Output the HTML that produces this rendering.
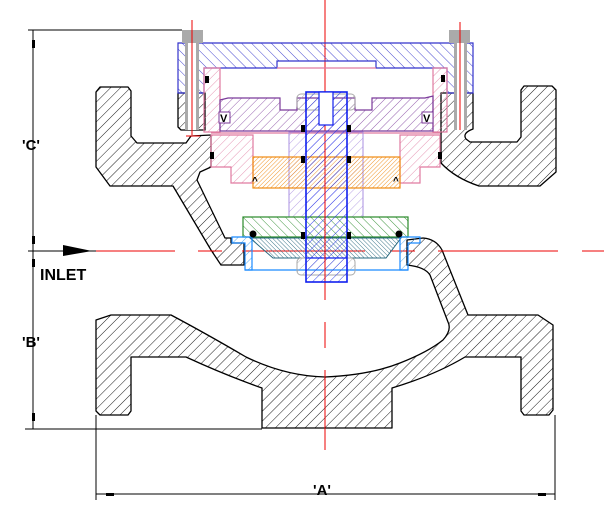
<!DOCTYPE html>
<html><head><meta charset="utf-8"><style>
html,body{margin:0;padding:0;background:#fff}
svg{display:block}
text{font-family:"Liberation Sans",sans-serif;font-weight:bold}
</style></head><body>
<svg width="604" height="517" viewBox="0 0 604 517" xmlns="http://www.w3.org/2000/svg">
<defs>
<pattern id="hk" width="7" height="7" patternUnits="userSpaceOnUse" patternTransform="rotate(45)"><line x1="0" y1="0" x2="0" y2="7" stroke="#000" stroke-width="0.9"/></pattern>
<pattern id="hb" width="7" height="7" patternUnits="userSpaceOnUse" patternTransform="rotate(-45)"><line x1="0" y1="0" x2="0" y2="7" stroke="#3333cc" stroke-width="0.9"/></pattern>
<pattern id="hp" width="6" height="6" patternUnits="userSpaceOnUse" patternTransform="rotate(45)"><line x1="0" y1="0" x2="0" y2="6" stroke="#e07aa0" stroke-width="0.8"/></pattern>
<pattern id="hv" width="6" height="6" patternUnits="userSpaceOnUse" patternTransform="rotate(45)"><line x1="0" y1="0" x2="0" y2="6" stroke="#7b3a9a" stroke-width="0.8"/></pattern>
<pattern id="hl" width="6" height="6" patternUnits="userSpaceOnUse" patternTransform="rotate(45)"><line x1="0" y1="0" x2="0" y2="6" stroke="#a98fe0" stroke-width="0.8"/></pattern>
<pattern id="ho" width="3" height="3" patternUnits="userSpaceOnUse" patternTransform="rotate(45)"><line x1="0" y1="0" x2="0" y2="3" stroke="#f08a10" stroke-width="0.9"/></pattern>
<pattern id="hs" width="6" height="6" patternUnits="userSpaceOnUse" patternTransform="rotate(45)"><line x1="0" y1="0" x2="0" y2="6" stroke="#2030ee" stroke-width="0.9"/></pattern>
<pattern id="hg" width="6" height="6" patternUnits="userSpaceOnUse" patternTransform="rotate(-45)"><line x1="0" y1="0" x2="0" y2="6" stroke="#2a8a2a" stroke-width="0.9"/></pattern>
<pattern id="ht" width="3" height="3" patternUnits="userSpaceOnUse" patternTransform="rotate(-45)"><line x1="0" y1="0" x2="0" y2="3" stroke="#2a6a80" stroke-width="0.9"/></pattern>
<pattern id="hc" width="6" height="6" patternUnits="userSpaceOnUse" patternTransform="rotate(45)"><line x1="0" y1="0" x2="0" y2="6" stroke="#3399ee" stroke-width="0.8"/></pattern>
<pattern id="hy" width="6" height="6" patternUnits="userSpaceOnUse" patternTransform="rotate(45)"><line x1="0" y1="0" x2="0" y2="6" stroke="#aaa" stroke-width="0.9"/></pattern>
</defs>

<g stroke="#000" stroke-width="1" fill="none">
<line x1="28" y1="30" x2="182" y2="30"/>
<line x1="25" y1="429" x2="262" y2="429"/>
<line x1="33" y1="30" x2="33" y2="429"/>
<line x1="96" y1="415" x2="96" y2="500"/>
<line x1="555" y1="415" x2="555" y2="500"/>
<line x1="96" y1="494" x2="555" y2="494"/>
<line x1="28" y1="251" x2="96" y2="251"/>
</g>
<g fill="#000">
<rect x="32" y="40" width="3" height="8"/><rect x="32" y="236" width="3" height="8"/>
<rect x="32" y="259" width="3" height="8"/><rect x="32" y="413" width="3" height="8"/>
<rect x="106" y="493" width="8" height="3"/><rect x="538" y="493" width="8" height="3"/>
<polygon points="63,245 92,251 63,256"/>
</g>
<text x="22" y="150" font-size="15">'C'</text>
<text x="22" y="347" font-size="15">'B'</text>
<text x="313" y="495" font-size="15">'A'</text>
<text x="40" y="280" font-size="16">INLET</text>

<g stroke="#000" stroke-width="1.3" fill="url(#hk)" stroke-linejoin="round">
<path d="M178,93 L205,93 L205,130 L181,130 L178,127 Z"/>
<path d="M96,92 L100,87 L128,87 L131,91 L131,136 L137,143 L186,143 L191,136 L211,135 L211,167 L200,172 L197,180 L225,238 L231,238 L231,243 L244,243 L244,265 L221,265 L211,250 L173,186 L110,186 L96,167 Z"/>
<path d="M441,93 L473,93 L473,129 Q462,133 466,139 L470,142 L517,142 L521,137 L521,90 L524,86 L552,86 L556,90 L556,172 L540,186 L479,186 Q455,178 441,163 Z"/>
<path d="M111,315 L171,315 Q205,333 246,357 Q285,376 325,377 Q370,375 400,363 Q428,352 443,340 Q452,330 448,322 L430,275 Q425,267 407,265 L407,240 L423,238 Q436,239 442,250 L468,315 L538,315 L553,325 L553,410 L549,415 L524,415 L521,411 L521,357 L465,357 Q435,375 392,388 L392,428 L262,428 L262,388 Q225,375 186,357 L131,357 L131,411 L128,415 L100,415 L96,411 L96,320 Z"/>
</g>

<g stroke="#e00" stroke-width="1">
<line x1="325" y1="0" x2="325" y2="300"/><line x1="325" y1="322" x2="325" y2="348"/><line x1="325" y1="370" x2="325" y2="450"/>
<line x1="96" y1="251" x2="175" y2="251"/><line x1="198" y1="251" x2="222" y2="251"/><line x1="242" y1="251" x2="365" y2="251"/><line x1="390" y1="251" x2="415" y2="251"/><line x1="438" y1="251" x2="558" y2="251"/><line x1="582" y1="251" x2="604" y2="251"/>
</g>

<path d="M178,43 L473,43 L473,93 L447,93 L447,68 L376,68 L376,61 L277,61 L277,68 L204,68 L204,93 L178,93 Z" fill="url(#hb)" stroke="#3333cc" stroke-width="1.2"/>
<g fill="url(#hp)" stroke="#e07aa0" stroke-width="1.2">
<rect x="204" y="68" width="16" height="64"/>
<rect x="433" y="68" width="14" height="64"/>
<path d="M211,135 L253,135 L253,183 L231,183 L231,167 L211,167 Z"/>
<path d="M440,135 L400,135 L400,183 L420,183 L420,167 L440,167 Z"/>
<line x1="211" y1="133" x2="440" y2="133"/>
</g>
<line x1="277" y1="68" x2="376" y2="68" stroke="#e07aa0" stroke-width="1.2"/>
<path d="M220,100 L228,98 L280,98 L280,110 L297,110 L297,98 L355,98 L355,110 L372,110 L372,98 L425,98 L433,96 L433,131 L220,131 Z" fill="url(#hv)" stroke="#7b3a9a" stroke-width="1.2"/>
<rect x="289" y="132" width="74" height="85" fill="url(#hl)" stroke="#a98fe0" stroke-width="1"/>
<rect x="253" y="157" width="147" height="31" fill="url(#ho)" stroke="#f08a10" stroke-width="1.2"/>
<rect x="243" y="217" width="165" height="20" fill="url(#hg)" stroke="#2a8a2a" stroke-width="1.2"/>
<polygon points="250,238 401,238 386,258 273,258" fill="url(#ht)" stroke="#2a6a80" stroke-width="1"/>
<g fill="url(#hc)" stroke="#1a8aff" stroke-width="1.2">
<path d="M232,237 L252,237 L252,270 L245,270 L245,243 L232,243 Z"/>
<path d="M420,237 L400,237 L400,270 L408,270 L408,243 L420,243 Z"/>
<line x1="245" y1="270" x2="408" y2="270" fill="none"/>
</g>
<rect x="297" y="94" width="58" height="16" rx="4" fill="url(#hy)" stroke="#aaa"/>
<rect x="297" y="258" width="58" height="17" rx="4" fill="url(#hy)" stroke="#aaa"/>
<rect x="306" y="92" width="41" height="190" fill="url(#hs)" stroke="#1020ee" stroke-width="1.6"/>
<rect x="319" y="92" width="14" height="33" fill="#fff" stroke="#1020ee" stroke-width="1.2"/>
<line x1="306" y1="258" x2="347" y2="258" stroke="#1020ee" stroke-width="1.2"/>
<line x1="325" y1="150" x2="325" y2="165" stroke="#e00"/><line x1="325" y1="180" x2="325" y2="280" stroke="#e00"/>

<g fill="#aaa">
<rect x="182" y="30" width="21" height="13"/><rect x="185" y="43" width="14" height="87"/>
<rect x="449" y="30" width="21" height="13"/><rect x="454" y="43" width="13" height="87"/>
</g>
<g fill="#fff"><rect x="188" y="43" width="8" height="87"/><rect x="457" y="43" width="7" height="87"/></g>
<g stroke="#e00" stroke-width="1"><line x1="192" y1="20" x2="192" y2="135"/><line x1="460" y1="22" x2="460" y2="130"/><line x1="186" y1="136" x2="200" y2="136"/></g>

<g font-size="11">
<rect x="219" y="112" width="11" height="11" fill="#fff" stroke="#7b3a9a"/><text x="220" y="122">V</text>
<rect x="422" y="112" width="11" height="11" fill="#fff" stroke="#7b3a9a"/><text x="423" y="122">V</text>
<text x="252" y="184" font-size="10">^</text><text x="393" y="184" font-size="10">^</text>
</g>
<g fill="#000">
<rect x="205" y="76" width="4" height="7"/><rect x="441" y="75" width="4" height="7"/>
<rect x="210" y="152" width="4" height="7"/><rect x="438" y="152" width="4" height="7"/>
<rect x="301" y="125" width="4" height="7"/><rect x="347" y="125" width="4" height="7"/>
<rect x="301" y="156" width="4" height="7"/><rect x="347" y="156" width="4" height="7"/>
<rect x="301" y="232" width="4" height="7"/><rect x="347" y="232" width="4" height="7"/>
<circle cx="253" cy="234" r="3.5"/><circle cx="399" cy="234" r="3.5"/>
</g>
</svg>
</body></html>
